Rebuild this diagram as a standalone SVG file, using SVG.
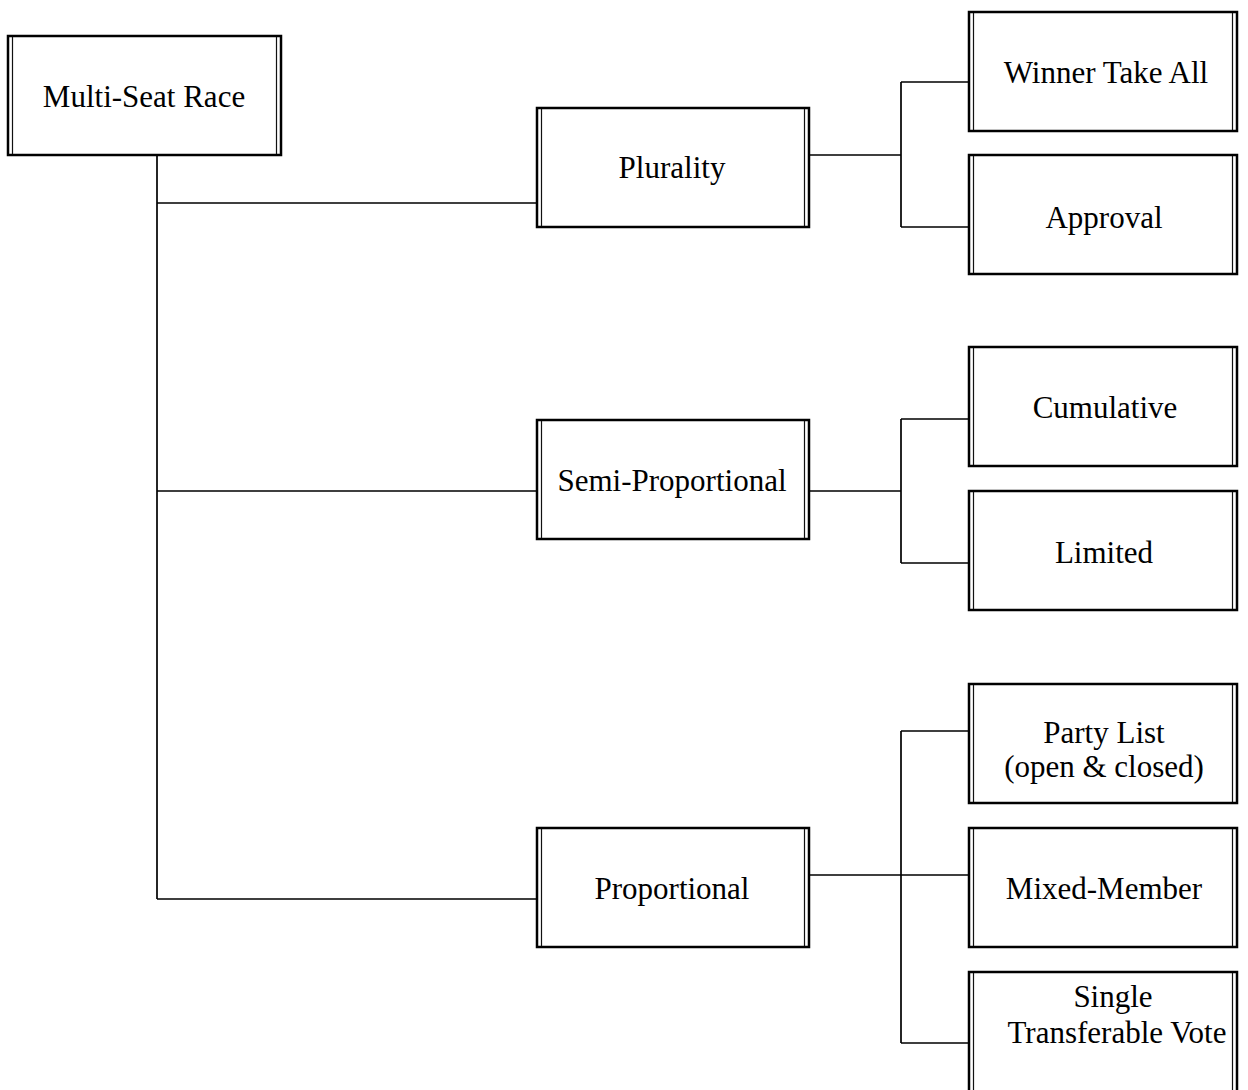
<svg xmlns="http://www.w3.org/2000/svg" width="1248" height="1090" viewBox="0 0 1248 1090">
<defs>
<style>
.box{fill:#fff;stroke:#000;stroke-width:2.5}
.inner{stroke:#111;stroke-width:1.2}
.lbl{font-family:"Liberation Serif","Times New Roman",serif;font-size:31px;fill:#000;text-anchor:middle}
.conn{fill:none;stroke:#000;stroke-width:1.7}
</style>
</defs>
<rect width="1248" height="1090" fill="#fff"/>
<g id="connectors" class="conn">
<path d="M157,155 V899 M157,203 H537 M157,491 H537 M157,899 H537"/>
<path d="M809,155 H901 M901,82 V227 M901,82 H969 M901,227 H969"/>
<path d="M809,491 H901 M901,419 V563 M901,419 H969 M901,563 H969"/>
<path d="M809,875 H969 M901,731 V1043 M901,731 H969 M901,1043 H969"/>
</g>
<g id="multi-seat-race">
<rect class="box" x="8" y="36" width="273" height="119"/>
<path class="inner" d="M12.5,37 V154 M276.5,37 V154"/>
<text class="lbl" x="144" y="107">Multi-Seat Race</text>
</g>
<g id="plurality">
<rect class="box" x="537" y="108" width="272" height="119"/>
<path class="inner" d="M541.5,109 V226 M804.5,109 V226"/>
<text class="lbl" x="672" y="178">Plurality</text>
</g>
<g id="semi-proportional">
<rect class="box" x="537" y="420" width="272" height="119"/>
<path class="inner" d="M541.5,421 V538 M804.5,421 V538"/>
<text class="lbl" x="672" y="491">Semi-Proportional</text>
</g>
<g id="proportional">
<rect class="box" x="537" y="828" width="272" height="119"/>
<path class="inner" d="M541.5,829 V946 M804.5,829 V946"/>
<text class="lbl" x="672" y="899">Proportional</text>
</g>
<g id="winner-take-all">
<rect class="box" x="969" y="12" width="268" height="119"/>
<path class="inner" d="M973.5,13 V130 M1232.5,13 V130"/>
<text class="lbl" x="1106" y="83">Winner Take All</text>
</g>
<g id="approval">
<rect class="box" x="969" y="155" width="268" height="119"/>
<path class="inner" d="M973.5,156 V273 M1232.5,156 V273"/>
<text class="lbl" x="1104" y="228">Approval</text>
</g>
<g id="cumulative">
<rect class="box" x="969" y="347" width="268" height="119"/>
<path class="inner" d="M973.5,348 V465 M1232.5,348 V465"/>
<text class="lbl" x="1105" y="418">Cumulative</text>
</g>
<g id="limited">
<rect class="box" x="969" y="491" width="268" height="119"/>
<path class="inner" d="M973.5,492 V609 M1232.5,492 V609"/>
<text class="lbl" x="1104" y="563">Limited</text>
</g>
<g id="party-list">
<rect class="box" x="969" y="684" width="268" height="119"/>
<path class="inner" d="M973.5,685 V802 M1232.5,685 V802"/>
<text class="lbl" x="1104" y="743">Party List</text>
<text class="lbl" x="1104" y="777">(open &amp; closed)</text>
</g>
<g id="mixed-member">
<rect class="box" x="969" y="828" width="268" height="119"/>
<path class="inner" d="M973.5,829 V946 M1232.5,829 V946"/>
<text class="lbl" x="1104" y="899">Mixed-Member</text>
</g>
<g id="single-transferable-vote">
<rect class="box" x="969" y="972" width="268" height="130"/>
<path class="inner" d="M973.5,973 V1095 M1232.5,973 V1095"/>
<text class="lbl" x="1113" y="1007">Single</text>
<text class="lbl" x="1117" y="1043">Transferable Vote</text>
</g>
</svg>
